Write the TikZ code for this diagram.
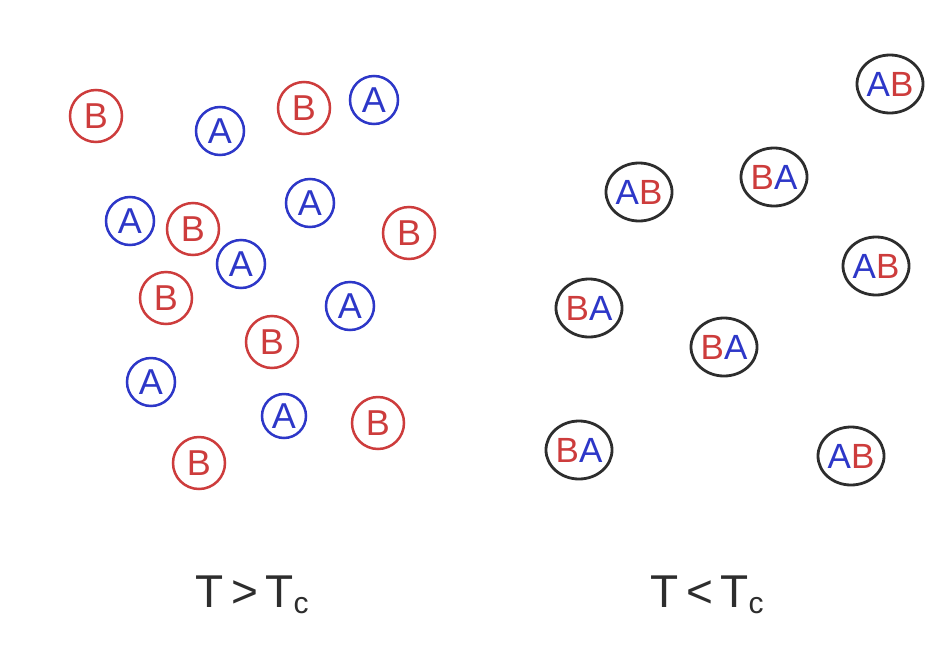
\documentclass[tikz,border=0pt]{standalone}
\usepackage{fontspec}
\setmainfont{Liberation Sans}
\usetikzlibrary{shapes.geometric}
\definecolor{penred}{RGB}{205,60,60}
\definecolor{penblue}{RGB}{45,55,200}
\definecolor{penblack}{RGB}{45,45,45}
\begin{document}
\begin{tikzpicture}[x=1pt,y=-1pt,
  atom/.style={circle,draw,line width=2.5pt,inner sep=0pt,minimum size=48pt,
    font=\fontsize{36}{36}\selectfont},
  aatom/.style={atom,draw=penblue,text=penblue},
  batom/.style={atom,draw=penred,text=penred,minimum size=52pt},
  pair/.style={ellipse,draw=penblack,line width=2.8pt,inner sep=0pt,
    minimum width=63pt,minimum height=58pt,font=\fontsize{35}{35}\selectfont},
  lbl/.style={font=\fontsize{46}{46}\selectfont,text=penblack,inner sep=0pt}]
\fill[white] (0,0) rectangle (947,648);
\useasboundingbox (0,0) rectangle (947,648);
% left: T > Tc
\node[batom] (b1) at (96,116) {B};
\node[aatom] (a1) at (220,131) {A};
\node[batom] (b2) at (304,108) {B};
\node[aatom] (a2) at (374,100) {A};
\node[aatom] (a3) at (130,221) {A};
\node[batom] (b3) at (193,229) {B};
\node[aatom] (a4) at (310,203) {A};
\node[batom] (b4) at (409,233) {B};
\node[aatom] (a5) at (241,264) {A};
\node[batom] (b5) at (166,298) {B};
\node[aatom] (a6) at (350,306) {A};
\node[batom] (b6) at (272,342) {B};
\node[aatom] (a7) at (151,382) {A};
\node[aatom,minimum size=44pt] (a8) at (284,416) {A};
\node[batom] (b7) at (378,423) {B};
\node[batom] (b8) at (199,463) {B};
% right: T < Tc
\node[pair] (p1) at (890,84) {\textcolor{penblue}{A}\textcolor{penred}{B}};
\node[pair] (p2) at (639,192) {\textcolor{penblue}{A}\textcolor{penred}{B}};
\node[pair] (p3) at (774,177) {\textcolor{penred}{B}\textcolor{penblue}{A}};
\node[pair] (p4) at (876,266) {\textcolor{penblue}{A}\textcolor{penred}{B}};
\node[pair] (p5) at (589,308) {\textcolor{penred}{B}\textcolor{penblue}{A}};
\node[pair] (p6) at (724,347) {\textcolor{penred}{B}\textcolor{penblue}{A}};
\node[pair] (p7) at (579,450) {\textcolor{penred}{B}\textcolor{penblue}{A}};
\node[pair] (p8) at (851,456) {\textcolor{penblue}{A}\textcolor{penred}{B}};
% labels
\node[lbl] (l1) at (252,595) {T\,>\,T\raisebox{-6pt}{\fontsize{30}{30}\selectfont c}};
\node[lbl] (l2) at (707,595) {T\,<\,T\raisebox{-6pt}{\fontsize{30}{30}\selectfont c}};
\end{tikzpicture}
\end{document}
